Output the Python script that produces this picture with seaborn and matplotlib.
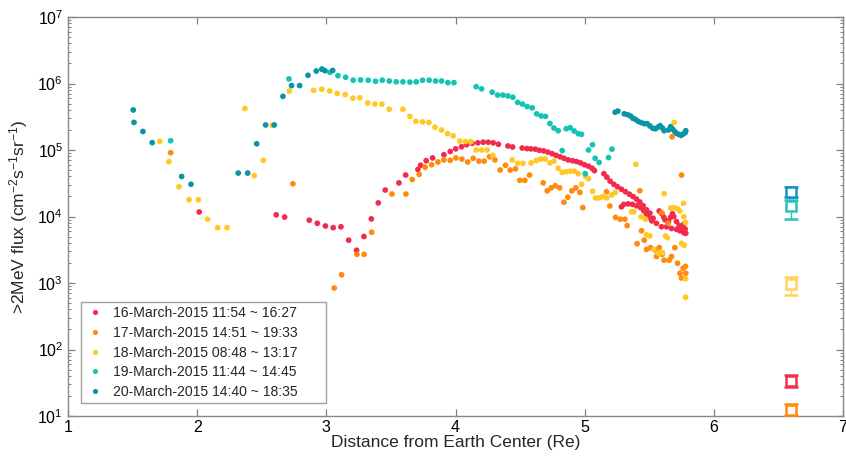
import matplotlib
matplotlib.use("Agg")
import matplotlib.pyplot as plt
import seaborn as sns
import pandas as pd
import numpy as np
from matplotlib.ticker import LogLocator, FixedLocator

# ---------------- data ----------------
labels = ["16-March-2015 11:54 ~ 16:27",
          "17-March-2015 14:51 ~ 19:33",
          "18-March-2015 08:48 ~ 13:17",
          "19-March-2015 11:44 ~ 14:45",
          "20-March-2015 14:40 ~ 18:35"]
colors = ["#F22B4C", "#FF8A0D", "#FFC824", "#14C4B2", "#0A94A4"]
square_colors = ["#F0304F", "#FF8A0D", "#FFD35C", "#25C6B5", "#1691C9"]

x16 = [2.016, 2.612, 2.677, 2.868, 2.930, 2.993, 3.053, 3.113, 3.173, 3.234,
       3.291, 3.348, 3.402, 3.456, 3.562, 3.614, 3.709, 3.730, 3.773, 3.823,
       3.910, 3.959, 4.001, 4.047, 4.086, 4.129, 4.173, 4.214, 4.253, 4.292,
       4.332, 4.406, 4.442, 4.516, 4.553, 4.584, 4.618, 4.649, 4.682, 4.715,
       4.748, 4.779, 4.810, 4.841, 4.872, 4.906, 4.937, 4.968, 4.999, 5.030,
       5.058, 5.076, 5.149, 5.172, 5.197, 5.226, 5.254, 5.285, 5.316, 5.347,
       5.375, 5.402, 5.427, 5.453, 5.479, 5.505, 5.530, 5.556, 5.595, 5.634,
       5.672, 5.711, 5.737, 5.768, 5.783,
       5.285, 5.303, 5.337, 5.370, 5.402, 5.433, 5.458, 5.479, 5.499, 5.520,
       5.577, 5.597, 5.613, 5.623, 5.649, 5.665, 5.680, 5.690, 5.711, 5.732,
       5.750, 5.768, 5.778]
y16 = [1.17e4, 1.06e4, 9.8e3, 8.8e3, 7.9e3, 7.2e3, 6.8e3, 7.0e3, 4.4e3, 3.1e3,
       5.0e3, 9.2e3, 1.6e4, 2.5e4, 3.2e4, 4.2e4, 5.1e4, 5.9e4, 6.9e4, 7.6e4,
       8.5e4, 9.5e4, 1.04e5, 1.12e5, 1.2e5, 1.26e5, 1.28e5, 1.31e5, 1.31e5, 1.28e5,
       1.22e5, 1.15e5, 1.11e5, 1.07e5, 1.05e5, 1.04e5, 1.03e5, 9.9e4, 9.7e4, 9.3e4,
       8.8e4, 8.3e4, 7.9e4, 7.5e4, 7.1e4, 6.9e4, 6.7e4, 6.4e4, 6.0e4, 5.7e4,
       5.3e4, 4.9e4, 4.4e4, 3.9e4, 3.4e4, 3.05e4, 2.8e4, 2.57e4, 2.36e4, 2.16e4,
       1.99e4, 1.82e4, 1.65e4, 1.45e4, 1.26e4, 1.12e4, 9.4e3, 7.9e3, 7.0e3, 7.0e3,
       6.6e3, 6.4e3, 6.1e3, 5.7e3, 5.6e3,
       1.4e4, 1.52e4, 1.55e4, 1.52e4, 1.45e4, 1.36e4, 1.22e4, 1.09e4, 9.6e3, 8.6e3,
       1.21e4, 1.1e4, 9.7e3, 8.9e3, 8.3e3, 9.7e3, 1.1e4, 1.0e4, 8.4e3, 7.3e3,
       6.6e3, 7.7e3, 6.5e3]

x17 = [1.795, 2.741, 3.061, 3.118, 3.237, 3.293, 3.351, 3.508, 3.616, 3.665,
       3.719, 3.765, 3.815, 3.864, 3.910, 3.959, 4.003, 4.050, 4.094, 4.137,
       4.181, 4.222, 4.264, 4.305, 4.346, 4.387, 4.423, 4.465, 4.498, 4.537,
       4.573, 4.679, 4.710, 4.741, 4.773, 4.806, 4.839, 4.870, 4.901, 4.932,
       4.963, 4.986, 5.169, 5.195, 5.239, 5.275, 5.311, 5.329, 5.406, 5.427,
       5.461, 5.479, 5.510, 5.551, 5.577, 5.615, 5.654, 5.672, 5.698, 5.719,
       5.737, 5.750, 5.762, 5.781, 5.783, 5.750, 5.677, 5.646,
       5.440, 5.556, 5.600, 5.598]
y17 = [9.1e4, 3.1e4, 840, 1.33e3, 2.7e3, 2.7e3, 5.8e3, 2.18e4, 2.18e4, 3.6e4,
       4.3e4, 5.5e4, 6.0e4, 6.6e4, 7.1e4, 7.0e4, 7.6e4, 7.3e4, 6.6e4, 7.5e4,
       6.8e4, 6.8e4, 7.9e4, 7.1e4, 5.0e4, 5.9e4, 5.0e4, 5.2e4, 3.5e4, 3.5e4,
       4.2e4, 3.2e4, 2.43e4, 2.7e4, 2.9e4, 2.7e4, 1.64e4, 1.95e4, 2.43e4, 2.7e4,
       2.3e4, 1.36e4, 2.36e4, 1.44e4, 9.7e3, 9.1e3, 9.1e3, 7.3e3, 3.9e3, 2.44e4,
       4.4e3, 3.2e3, 3.4e3, 3.1e3, 3.4e3, 2.2e3, 2.2e3, 2.5e3, 3.4e3, 1.98e3,
       1.4e3, 1.19e3, 1.66e3, 1.78e3, 1.4e3, 4.2e4, 1.58e5, 7.9e3,
       6.1e3, 2.5e3, 2.7e3, 1.14e4]

x18 = [1.710, 1.782, 1.859, 1.937, 2.009, 2.081, 2.159, 2.231, 2.370, 2.442,
       2.512, 2.581, 2.713, 2.902, 2.964, 3.026, 3.084, 3.146, 3.206, 3.260,
       3.320, 3.376, 3.430, 3.487, 3.593, 3.647, 3.693, 3.745, 3.794, 3.841,
       3.892, 3.939, 3.982, 4.034, 4.078, 4.119, 4.160, 4.202, 4.245, 4.289,
       4.439, 4.481, 4.522, 4.586, 4.625, 4.661, 4.694, 4.731, 4.762, 4.795,
       4.826, 4.857, 4.889, 4.921, 4.951, 4.976, 5.009, 5.030, 5.061, 5.084,
       5.110, 5.138, 5.169, 5.208, 5.236, 5.363, 5.381, 5.396, 5.437, 5.471,
       5.479, 5.505, 5.536, 5.572, 5.603, 5.615, 5.626, 5.639, 5.667, 5.693,
       5.719, 5.737, 5.765, 5.768, 5.781, 5.750, 5.770, 5.781, 5.781, 5.693]
y18 = [1.35e5, 6.7e4, 2.8e4, 1.79e4, 1.78e4, 9.1e3, 6.8e3, 6.8e3, 4.2e5, 4.1e4,
       7.0e4, 2.35e5, 7.7e5, 7.9e5, 8.2e5, 7.7e5, 7.1e5, 6.8e5, 6.0e5, 6.1e5,
       5.1e5, 4.9e5, 4.9e5, 4.1e5, 4.1e5, 3.2e5, 2.7e5, 2.65e5, 2.6e5, 2.2e5,
       2.0e5, 1.76e5, 1.63e5, 1.36e5, 1.34e5, 1.33e5, 1.0e5, 1.0e5, 1.0e5, 8.3e4,
       7.1e4, 6.3e4, 6.3e4, 6.4e4, 6.95e4, 7.3e4, 7.3e4, 6.4e4, 6.8e4, 5.3e4,
       4.6e4, 4.7e4, 4.8e4, 4.8e4, 4.4e4, 3.05e4, 4.0e4, 3.7e4, 2.4e4, 1.9e4,
       1.9e4, 1.99e4, 1.9e4, 2.1e4, 2.3e4, 1.18e4, 1.18e4, 6.1e4, 9.9e3, 9.1e3,
       5.3e3, 5.1e3, 3.2e3, 2.8e3, 2.85e3, 2.2e4, 5.1e3, 4.8e3, 1.34e4, 1.36e4,
       1.3e4, 1.21e4, 1.58e4, 9.9e3, 8.1e3, 3.95e3, 3.7e3, 1.16e3, 610, 2.6e5]

x19 = [1.795, 2.711, 2.966, 3.028, 3.090, 3.149, 3.208, 3.265, 3.324, 3.381,
       3.433, 3.487, 3.541, 3.593, 3.647, 3.696, 3.745, 3.796, 3.846, 3.892,
       3.941, 3.988, 4.160, 4.202, 4.284, 4.326, 4.367, 4.406, 4.444, 4.481,
       4.519, 4.555, 4.594, 4.628, 4.663, 4.697, 4.731, 4.762, 4.795, 4.857,
       4.888, 4.919, 4.950, 4.976, 4.826, 5.004, 5.030, 5.061, 5.081, 5.112,
       5.185, 5.211]
y19 = [1.38e5, 1.17e6, 1.64e6, 1.47e6, 1.31e6, 1.24e6, 1.12e6, 1.13e6, 1.12e6, 1.08e6,
       1.12e6, 1.09e6, 1.06e6, 1.06e6, 1.05e6, 1.06e6, 1.12e6, 1.12e6, 1.09e6, 1.09e6,
       1.03e6, 1.03e6, 8.95e5, 8.3e5, 7.4e5, 6.7e5, 6.7e5, 6.5e5, 6.2e5, 5.2e5,
       4.9e5, 4.5e5, 4.3e5, 3.5e5, 3.25e5, 3.2e5, 2.5e5, 2.14e5, 1.95e5, 2.09e5,
       2.16e5, 1.93e5, 1.76e5, 1.72e5, 9.8e4, 4.4e4, 1.0e5, 1.2e5, 7.5e4, 6.5e4,
       7.7e4, 1.03e5]

x20 = [1.505, 1.511, 1.580, 1.652, 1.880, 1.952, 2.318, 2.391, 2.461, 2.530,
       2.597, 2.664, 2.731, 2.793, 2.858, 2.922, 2.966, 2.989, 3.049, 5.236,
       5.257, 5.306, 5.332, 5.355, 5.373, 5.391, 5.414, 5.437, 5.461, 5.484,
       5.505, 5.528, 5.549, 5.569, 5.584, 5.603, 5.615, 5.649, 5.665, 5.680,
       5.696, 5.711, 5.727, 5.747, 5.762, 5.778, 5.783]
y20 = [4.0e5, 2.6e5, 1.9e5, 1.29e5, 4.0e4, 3.05e4, 4.5e4, 4.5e4, 1.24e5, 2.38e5,
       2.38e5, 6.4e5, 9.3e5, 9.3e5, 1.33e6, 1.54e6, 1.64e6, 1.56e6, 1.57e6, 3.7e5,
       3.85e5, 3.5e5, 3.4e5, 3.25e5, 3.0e5, 2.9e5, 2.7e5, 2.58e5, 2.49e5, 2.49e5,
       2.3e5, 2.12e5, 2.09e5, 2.22e5, 2.32e5, 2.14e5, 1.95e5, 2.0e5, 2.24e5, 2.07e5,
       1.91e5, 1.78e5, 1.72e5, 1.66e5, 1.74e5, 1.82e5, 1.95e5]

# reference (square) values at L = 6.6
sq_x = [6.6, 6.6, 6.6, 6.6, 6.6]
sq_flux = [34, 12.3, 955, 1.45e4, 2.36e4]
sq_low = [27, 10.2, 662, 9.1e3, 1.95e4]
sq_high = [41, 15, 1245, 1.75e4, 2.8e4]

# ---------------- style ----------------
sns.set_style("white")
plt.rcParams['font.family'] = ['Liberation Sans', 'DejaVu Sans']
plt.rcParams['mathtext.default'] = 'regular'
plt.rcParams['mathtext.fontset'] = 'custom'
plt.rcParams['mathtext.rm'] = 'Liberation Sans'
plt.rcParams['mathtext.it'] = 'Liberation Sans'

fig = plt.figure(figsize=(8.46, 4.57), dpi=100)
ax = fig.add_axes([68/846, 1-416/457, (843-68)/846, (416-17)/457])

frames = []
for xs, ys, lab in zip([x16, x17, x18, x19, x20], [y16, y17, y18, y19, y20], labels):
    frames.append(pd.DataFrame({"x": xs, "flux": ys, "label": lab}))
df = pd.concat(frames, ignore_index=True)

sns.scatterplot(data=df, x="x", y="flux", hue="label", hue_order=labels,
                palette=colors, s=17, linewidth=0, ax=ax, legend=True)

for i in range(len(sq_x)):
    ax.errorbar([sq_x[i]], [sq_flux[i]],
                yerr=[[sq_flux[i] - sq_low[i]], [sq_high[i] - sq_flux[i]]],
                fmt='s', mfc='white', mec=square_colors[i], ecolor=square_colors[i],
                ms=7.5, mew=1.8, capsize=5, elinewidth=1.0, capthick=1.8, zorder=3)

ax.set_yscale('log')
ax.set_xlim(1, 7)
ax.set_ylim(10, 1e7)
ax.xaxis.set_major_locator(FixedLocator([1, 2, 3, 4, 5, 6, 7]))
ax.set_xticklabels(["1", "2", "3", "4", "5", "6", "7"])
ax.yaxis.set_major_locator(LogLocator(base=10, numticks=10))
ax.yaxis.set_minor_locator(LogLocator(base=10, subs=np.arange(2, 10), numticks=20))

ax.tick_params(axis='both', which='both', direction='in', colors='#7f7f7f',
               labelcolor='black', labelsize=11.5)
ax.tick_params(axis='x', which='major', top=True, bottom=True, length=5, width=0.9)
ax.tick_params(axis='y', which='major', left=True, right=True, length=5, width=0.9)
ax.tick_params(axis='y', which='minor', left=True, right=True, length=2.5, width=0.7)
ax.tick_params(axis='x', which='major', pad=3)
for sp in ax.spines.values():
    sp.set_color('#888888')
    sp.set_linewidth(1.0)

ax.set_xlabel("Distance from Earth Center (Re)", fontsize=12.5, labelpad=0)
ax.set_ylabel(r">2MeV flux (cm$^{-2}$s$^{-1}$sr$^{-1}$)", fontsize=12.5, labelpad=5)

handles, labs = ax.get_legend_handles_labels()
if ax.get_legend():
    ax.get_legend().remove()
leg = ax.legend(handles[:5], labs[:5], loc='lower left',
                bbox_to_anchor=(13/775, 13/399, 245/775, 0.2), mode='expand',
                fontsize=10.1, frameon=True, fancybox=False, borderpad=0.3,
                labelspacing=0.4, handletextpad=0.55, markerscale=0.9,
                handlelength=1.4, borderaxespad=0)
leg.get_frame().set_edgecolor('#888888')
leg.get_frame().set_linewidth(1.0)

fig.savefig("out.png", dpi=100)
